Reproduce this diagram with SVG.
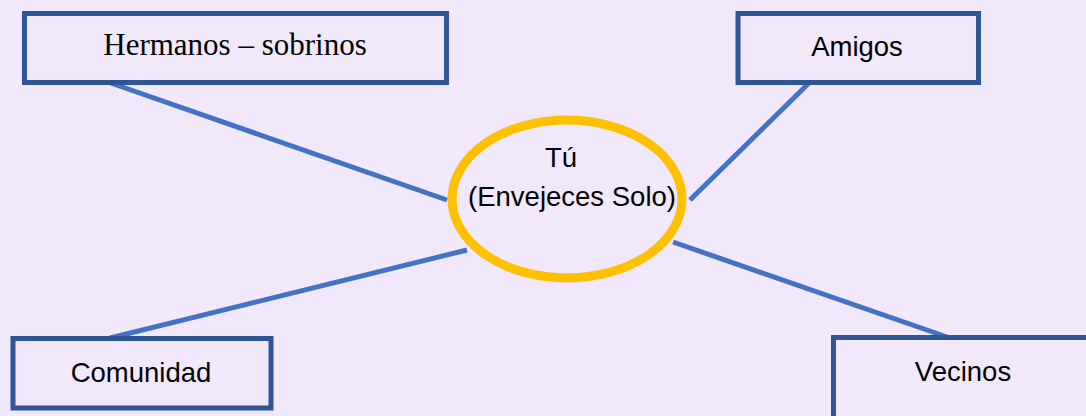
<svg xmlns="http://www.w3.org/2000/svg" width="1086" height="416" viewBox="0 0 1086 416">
  <style>
    .box { fill: #F2E8FC; stroke: #2F5597; stroke-width: 5; }
    .conn { stroke: #4472C4; stroke-width: 5; fill: none; }
    .sans { font-family: "Liberation Sans", Arial, sans-serif; font-size: 27.5px; fill: #000; text-anchor: middle; }
    .serif { font-family: "Liberation Serif", "Times New Roman", serif; font-size: 31px; fill: #000; text-anchor: middle; }
  </style>
  <rect x="0" y="0" width="1086" height="416" fill="#F2E8FC"/>
  <g id="connectors">
    <line class="conn" x1="108" y1="82" x2="447" y2="200"/>
    <line class="conn" x1="810" y1="82" x2="690" y2="200"/>
    <line class="conn" x1="110" y1="338" x2="467" y2="250"/>
    <line class="conn" x1="673" y1="242" x2="950" y2="338"/>
  </g>
  <g id="hermanos">
    <rect class="box" x="24.5" y="13.5" width="422" height="69"/>
    <text class="serif" x="235" y="55">Hermanos – sobrinos</text>
  </g>
  <g id="amigos">
    <rect class="box" x="738" y="13.5" width="240.5" height="69"/>
    <text class="sans" x="857" y="56">Amigos</text>
  </g>
  <g id="tu">
    <ellipse cx="567" cy="199" rx="115" ry="79" fill="#F2E8FC" stroke="#FFC000" stroke-width="9"/>
    <text class="sans" x="561" y="167">Tú</text>
    <text class="sans" x="572" y="206">(Envejeces Solo)</text>
  </g>
  <g id="comunidad">
    <rect class="box" x="13" y="338.5" width="258" height="69.5"/>
    <text class="sans" x="141" y="382">Comunidad</text>
  </g>
  <g id="vecinos">
    <rect class="box" x="833.5" y="337.5" width="300" height="100"/>
    <text class="sans" x="963" y="381">Vecinos</text>
  </g>
</svg>
